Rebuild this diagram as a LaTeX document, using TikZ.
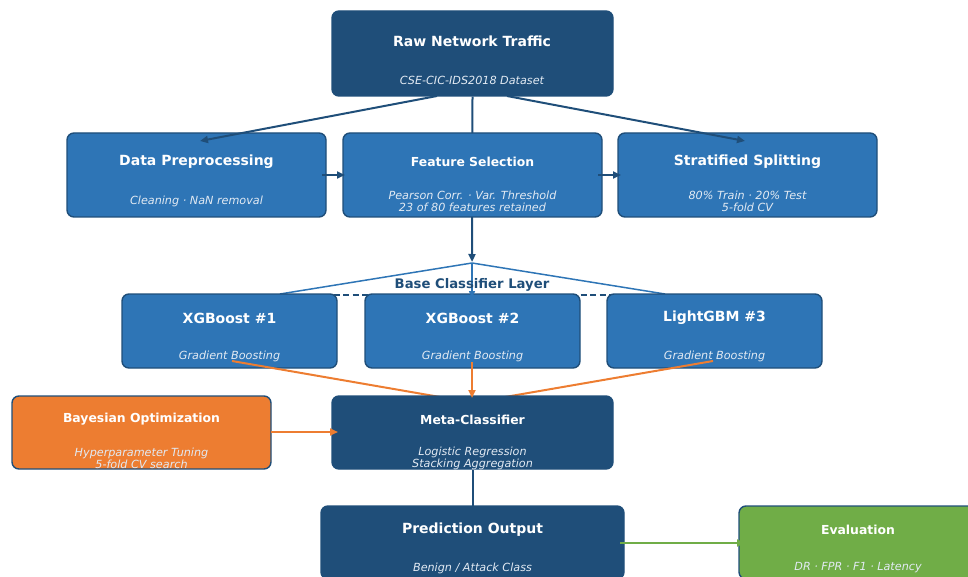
\documentclass[tikz,border=0pt]{standalone}
\usepackage{fontspec}
\setmainfont{DejaVu Sans}
\usetikzlibrary{arrows.meta}
\definecolor{dkblue}{HTML}{1F4E79}
\definecolor{mdblue}{HTML}{2E75B6}
\definecolor{orng}{HTML}{ED7D31}
\definecolor{grn}{HTML}{70AD47}
\definecolor{subc}{HTML}{E2EAF3}
\tikzset{
 box/.style={rectangle, rounded corners=7pt, draw=dkblue, line width=1.4pt, inner sep=0pt},
 ttl/.style={text=white, inner sep=0pt, font=\bfseries\fontsize{14}{16}\selectfont},
 ttls/.style={text=white, inner sep=0pt, font=\bfseries\fontsize{12.4}{14}\selectfont},
 sub/.style={text=subc, inner sep=0pt, font=\itshape\fontsize{11.2}{12}\selectfont, align=center},
 tipa/.style={-{Triangle[length=8pt,width=7pt]}},
 dkline/.style={draw=dkblue, line width=2pt},
 fanline/.style={draw=mdblue, line width=1.5pt},
 orline/.style={draw=orng, line width=2pt},
 grline/.style={draw=grn, line width=2pt},
}
\begin{document}
\begin{tikzpicture}[x=1pt,y=-1pt]
\useasboundingbox (0,0) rectangle (968,577);
% coordinates
\coordinate (layer) at (472,262);
\coordinate (fan) at (472,263);
\coordinate (dashL) at (229,295);
\coordinate (dashR) at (714,295);
% raw -> layer (behind feature box)
\node[box, fill=dkblue, minimum width=281pt, minimum height=85pt] (raw) at (472.5,53.5) {};
\draw[dkline, tipa] (raw.south) -- (layer);
% first row boxes
\node[box, fill=mdblue, minimum width=259pt, minimum height=84pt] (prep) at (196.5,175) {};
\node[box, fill=mdblue, minimum width=259pt, minimum height=84pt] (feat) at (472.5,175) {};
\node[box, fill=mdblue, minimum width=259pt, minimum height=84pt] (strat) at (747.5,175) {};
\node[ttl] (rawT) at (472,41) {Raw Network Traffic};
\node[sub] (rawS) at (472,80) {CSE-CIC-IDS2018 Dataset};
\node[ttl] (prepT) at (196.5,162) {Data Preprocessing};
\node[sub] (prepS) at (196.5,201) {Cleaning · NaN removal};
\node[ttls] (featT) at (472.5,162) {Feature Selection};
\node[sub] (featS) at (472.5,201) {Pearson Corr. · Var. Threshold\\23 of 80 features retained};
\node[ttl] (stratT) at (747.5,162) {Stratified Splitting};
\node[sub] (stratS) at (747.5,201) {80\% Train · 20\% Test\\5-fold CV};
% raw -> prep / strat
\coordinate (rawL) at (437,96);
\coordinate (rawR) at (507,96);
\coordinate (prepIn) at (200,141);
\coordinate (stratIn) at (745,141);
\draw[dkline, tipa] (rawL) -- (prepIn);
\draw[dkline, tipa] (rawR) -- (stratIn);
\coordinate (prepOut) at (322,175);
\coordinate (featIn) at (345,175);
\coordinate (featOut) at (598,175);
\coordinate (stratIn2) at (621,175);
\draw[dkline, tipa] (prepOut) -- (featIn);
\draw[dkline, tipa] (featOut) -- (stratIn2);
% base layer
\draw[draw=dkblue, line width=1.4pt, dash pattern=on 6pt off 3.5pt] (dashL) -- (dashR);
\coordinate (x1top) at (280,294);
\coordinate (x3top) at (665,294);
\draw[fanline] (fan) -- (x1top);
\draw[fanline] (fan) -- (x3top);
\node[box, fill=mdblue, minimum width=215pt, minimum height=74pt] (xgb1) at (229.5,331) {};
\node[box, fill=mdblue, minimum width=215pt, minimum height=74pt] (xgb2) at (472.5,331) {};
\node[box, fill=mdblue, minimum width=215pt, minimum height=74pt] (lgbm) at (714.5,331) {};
\coordinate (x2top) at (472,298);
\draw[fanline, -{Triangle[length=7pt,width=6pt]}] (fan) -- (x2top);
\node[text=dkblue, inner sep=0pt, font=\bfseries\fontsize{13.2}{15}\selectfont] (layerT) at (472,284.5) {Base Classifier Layer};
\node[ttl] (xgb1T) at (229.5,318) {XGBoost \#1};
\node[sub] (xgb1S) at (229.5,356) {Gradient Boosting};
\node[ttl] (xgb2T) at (472.5,318) {XGBoost \#2};
\node[sub] (xgb2S) at (472.5,356) {Gradient Boosting};
\node[ttl] (lgbmT) at (714.5,318) {LightGBM \#3};
\node[sub] (lgbmS) at (714.5,356) {Gradient Boosting};
% orange lines
\coordinate (x1out) at (232,361);
\coordinate (x3out) at (713,361);
\coordinate (x2out) at (472,362);
\coordinate (metaL) at (440,397);
\coordinate (metaR) at (505,397);
\coordinate (metaTop) at (472,398);
\draw[orline] (x1out) -- (metaL);
\draw[orline] (x3out) -- (metaR);
% meta, bayes
\node[box, fill=dkblue, minimum width=281pt, minimum height=73pt] (meta) at (472.5,432.5) {};
\node[box, fill=orng, minimum width=259pt, minimum height=73pt] (bayes) at (141.5,432.5) {};
\draw[orline, tipa] (x2out) -- (metaTop);
\coordinate (bayesOut) at (271,432);
\coordinate (metaIn) at (338,432);
\draw[orline, tipa] (bayesOut) -- (metaIn);
\node[ttls] (metaT) at (472.5,419.5) {Meta-Classifier};
\node[sub] (metaS) at (472.5,458) {Logistic Regression\\Stacking Aggregation};
\node[ttls] (bayesT) at (141.5,419.5) {Bayesian Optimization};
\node[sub] (bayesS) at (141.5,458) {Hyperparameter Tuning\\5-fold CV search};
% meta -> pred
\draw[dkline] (meta.south) -- (472.5,510);
\node[box, fill=dkblue, minimum width=303pt, minimum height=73pt] (pred) at (472.5,542.5) {};
\node[box, fill=grn, minimum width=238pt, minimum height=73pt] (eval) at (858,542.5) {};
\coordinate (predOut) at (620,543);
\coordinate (evalIn) at (745,543);
\draw[grline, tipa] (predOut) -- (evalIn);
\node[ttl] (predT) at (472.5,530) {Prediction Output};
\node[sub] (predS) at (472.5,568) {Benign / Attack Class};
\node[ttls] (evalT) at (858,529.5) {Evaluation};
\node[sub] (evalS) at (858,568) {DR · FPR · F1 · Latency};
\end{tikzpicture}
\end{document}
